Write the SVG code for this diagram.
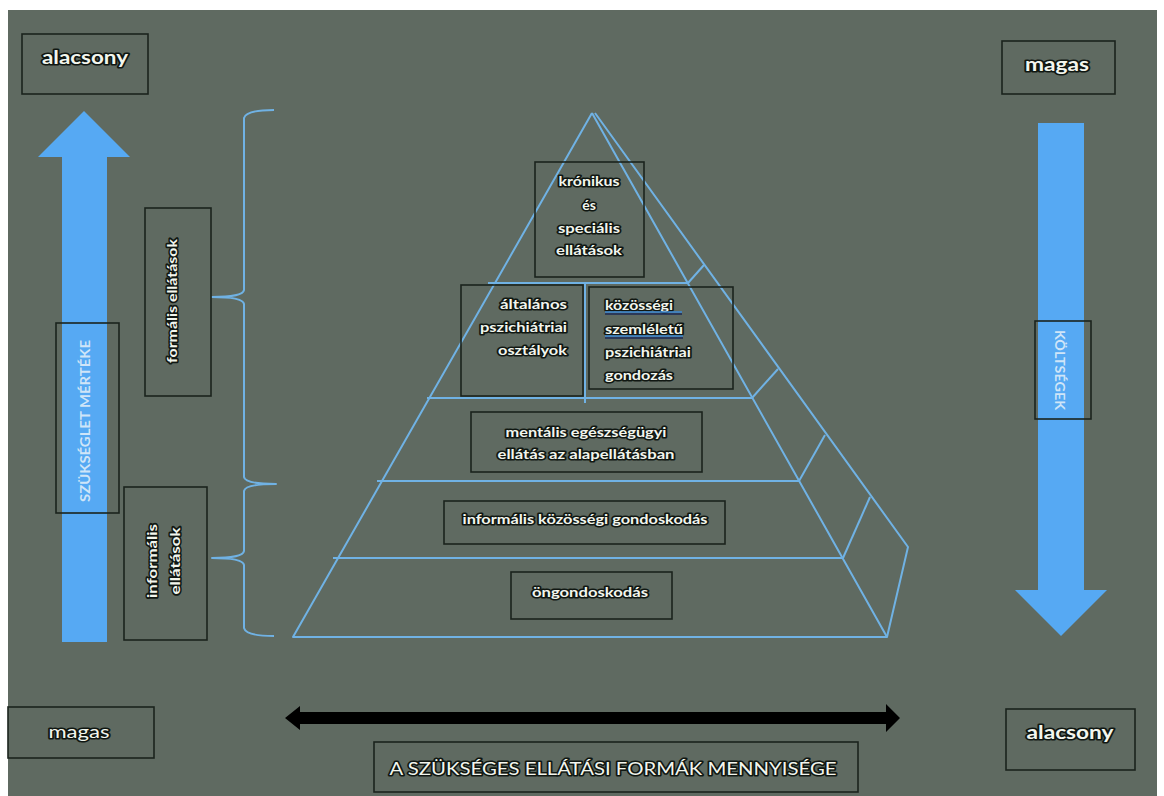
<svg xmlns="http://www.w3.org/2000/svg" width="1164" height="796" viewBox="0 0 1164 796">
<style>
.box{fill:none;stroke:#1b231d;stroke-width:1.6}
.lbl{font-family:Lato,"Liberation Sans",sans-serif;font-weight:bold;font-size:14px;fill:#f3f6ee;stroke:#101712;stroke-width:3.2;paint-order:stroke;stroke-linejoin:round}
.big{font-size:18px}
.reg{font-weight:normal}
.pale{font-family:Lato,"Liberation Sans",sans-serif;font-weight:bold;font-size:13px;fill:#cfe5f8}
.pyr{fill:none;stroke:#70b2e4;stroke-width:2;stroke-linejoin:round}
.blue{fill:#56a9f3}
</style>
<rect x="0" y="0" width="1164" height="796" fill="#ffffff"/>
<rect x="8" y="10" width="1149" height="786" fill="#5f6a61"/>

<g id="connectors">
  <polygon id="arrow-up" class="blue" points="84,111 130,157 107,157 107,642 62,642 62,157 38,157"/>
  <polygon id="arrow-down" class="blue" points="1038,123 1084,123 1084,590 1107,590 1061,636 1015,590 1038,590"/>
  <polygon id="arrow-horizontal" fill="#000" points="285,718 300,706 300,712 886,712 886,704 900,718 886,732 886,724 300,724 300,730"/>
  <path id="bracket" class="pyr" d="M274,110 Q246,110 244,118 L244,290 Q243,297 212,297 Q243,297 244,304 L244,477 Q245,484 276,484 Q245,484 244,491 L244,551 Q243,558 212,558 Q243,558 244,565 L244,628 Q246,636 274,636"/>
</g>

<g id="pyramid">
  <polyline class="pyr" points="592,113 293,637 887,637 592,113"/>
  <polyline class="pyr" points="595,113 908,547 887,637"/>
  <line class="pyr" x1="488" y1="283" x2="688" y2="283"/>
  <line class="pyr" x1="427" y1="398" x2="752" y2="398"/>
  <line class="pyr" x1="377" y1="481" x2="799" y2="481"/>
  <line class="pyr" x1="333" y1="558" x2="843" y2="558"/>
  <line class="pyr" x1="585" y1="283" x2="585" y2="403"/>
  <line class="pyr" x1="688" y1="283" x2="704" y2="265"/>
  <line class="pyr" x1="752" y1="398" x2="778" y2="369"/>
  <line class="pyr" x1="799" y1="481" x2="825" y2="435"/>
  <line class="pyr" x1="843" y1="558" x2="870" y2="497"/>
</g>

<g id="node-alacsony-top">
  <rect class="box" x="22" y="34" width="126" height="60"/>
  <text class="lbl big" x="85" y="64" text-anchor="middle" textLength="86" lengthAdjust="spacingAndGlyphs">alacsony</text>
</g>
<g id="node-magas-top">
  <rect class="box" x="1002" y="41" width="113" height="53"/>
  <text class="lbl big" x="1057" y="71" text-anchor="middle" textLength="64" lengthAdjust="spacingAndGlyphs">magas</text>
</g>
<g id="node-szukseglet">
  <rect class="box" x="56" y="323" width="63" height="190"/>
  <text class="pale" transform="translate(89.5,421) rotate(-90)" text-anchor="middle" textLength="162" lengthAdjust="spacingAndGlyphs">SZÜKSÉGLET MÉRTÉKE</text>
</g>
<g id="node-formalis">
  <rect class="box" x="145" y="208" width="66" height="188"/>
  <text class="lbl" transform="translate(177,301) rotate(-90)" text-anchor="middle" textLength="124" lengthAdjust="spacingAndGlyphs">formális ellátások</text>
</g>
<g id="node-informalis-ellatasok">
  <rect class="box" x="124" y="487" width="83" height="153"/>
  <text class="lbl" transform="translate(157,561) rotate(-90)" text-anchor="middle" textLength="74" lengthAdjust="spacingAndGlyphs">informális</text>
  <text class="lbl" transform="translate(180,561) rotate(-90)" text-anchor="middle" textLength="67" lengthAdjust="spacingAndGlyphs">ellátások</text>
</g>
<g id="node-kronikus">
  <rect class="box" x="535" y="162" width="109" height="115"/>
  <text class="lbl" x="589" y="186" text-anchor="middle" textLength="61" lengthAdjust="spacingAndGlyphs">krónikus</text>
  <text class="lbl" x="589" y="210" text-anchor="middle">és</text>
  <text class="lbl" x="589" y="233" text-anchor="middle" textLength="62" lengthAdjust="spacingAndGlyphs">speciális</text>
  <text class="lbl" x="589" y="255" text-anchor="middle" textLength="66" lengthAdjust="spacingAndGlyphs">ellátások</text>
</g>
<g id="node-altalanos">
  <rect class="box" x="461" y="285" width="122" height="111"/>
  <text class="lbl" x="567" y="309" text-anchor="end" textLength="67" lengthAdjust="spacingAndGlyphs">általános</text>
  <text class="lbl" x="567" y="332" text-anchor="end" textLength="87" lengthAdjust="spacingAndGlyphs">pszichiátriai</text>
  <text class="lbl" x="567" y="355" text-anchor="end" textLength="69" lengthAdjust="spacingAndGlyphs">osztályok</text>
</g>
<g id="node-kozossegi">
  <rect class="box" x="589" y="287" width="144" height="102"/>
  <text class="lbl" x="605" y="310" textLength="68" lengthAdjust="spacingAndGlyphs">közösségi</text>
  <line x1="605" y1="312" x2="682" y2="312" stroke="#3b8ad6" stroke-width="1.5"/>
  <line x1="605" y1="314" x2="682" y2="314" stroke="#1b2a55" stroke-width="1.5"/>
  <text class="lbl" x="605" y="334" textLength="78" lengthAdjust="spacingAndGlyphs">szemléletű</text>
  <line x1="605" y1="336" x2="683" y2="336" stroke="#3b8ad6" stroke-width="1.5"/>
  <line x1="605" y1="338" x2="683" y2="338" stroke="#1b2a55" stroke-width="1.5"/>
  <text class="lbl" x="605" y="357" textLength="86" lengthAdjust="spacingAndGlyphs">pszichiátriai</text>
  <text class="lbl" x="605" y="380" textLength="68" lengthAdjust="spacingAndGlyphs">gondozás</text>
</g>
<g id="node-mentalis">
  <rect class="box" x="471" y="412" width="231" height="60"/>
  <text class="lbl" x="586" y="437" text-anchor="middle" textLength="161" lengthAdjust="spacingAndGlyphs">mentális egészségügyi</text>
  <text class="lbl" x="586" y="459" text-anchor="middle" textLength="177" lengthAdjust="spacingAndGlyphs">ellátás az alapellátásban</text>
</g>
<g id="node-informalis-kozossegi">
  <rect class="box" x="444" y="501" width="281" height="43"/>
  <text class="lbl" x="585" y="524" text-anchor="middle" textLength="245" lengthAdjust="spacingAndGlyphs">informális közösségi gondoskodás</text>
</g>
<g id="node-ongondoskodas">
  <rect class="box" x="511" y="572" width="161" height="47"/>
  <text class="lbl" x="590" y="597" text-anchor="middle" textLength="116" lengthAdjust="spacingAndGlyphs">öngondoskodás</text>
</g>
<g id="node-koltsegek">
  <rect class="box" x="1035" y="321" width="56" height="98"/>
  <text class="pale" transform="translate(1054.5,370) rotate(90)" text-anchor="middle" textLength="80" lengthAdjust="spacingAndGlyphs">KÖLTSÉGEK</text>
</g>
<g id="node-magas-bottom">
  <rect class="box" x="8" y="707" width="146" height="51"/>
  <text class="lbl big reg" x="79" y="738" text-anchor="middle" textLength="61" lengthAdjust="spacingAndGlyphs">magas</text>
</g>
<g id="node-caption">
  <rect class="box" x="374" y="742" width="484" height="50"/>
  <text class="lbl big reg" x="613" y="775" text-anchor="middle" textLength="447" lengthAdjust="spacingAndGlyphs">A SZÜKSÉGES ELLÁTÁSI FORMÁK MENNYISÉGE</text>
</g>
<g id="node-alacsony-bottom">
  <rect class="box" x="1006" y="709" width="129" height="61"/>
  <text class="lbl big" x="1070" y="739" text-anchor="middle" textLength="87" lengthAdjust="spacingAndGlyphs">alacsony</text>
</g>
</svg>
